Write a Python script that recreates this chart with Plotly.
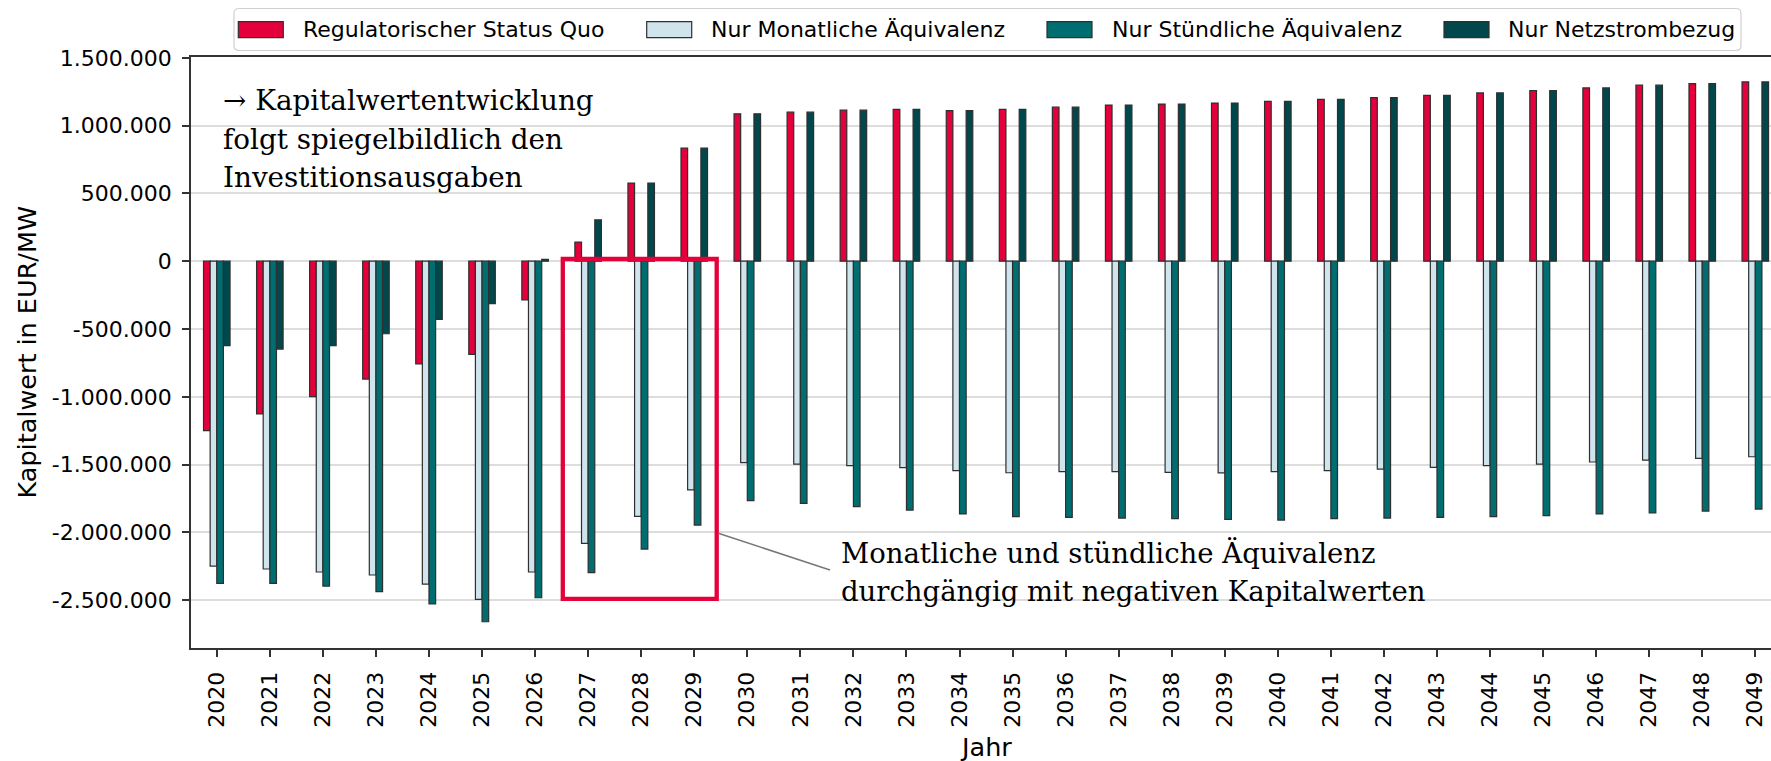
import plotly.graph_objects as go

# ---------------- data ----------------
years = ["2020", "2021", "2022", "2023", "2024", "2025", "2026", "2027", "2028", "2029",
         "2030", "2031", "2032", "2033", "2034", "2035", "2036", "2037", "2038", "2039",
         "2040", "2041", "2042", "2043", "2044", "2045", "2046", "2047", "2048", "2049"]

series_names = ["Regulatorischer Status Quo", "Nur Monatliche Äquivalenz",
                "Nur Stündliche Äquivalenz", "Nur Netzstrombezug"]

status_quo = [-1250000, -1127000, -999000, -869000, -758000, -687000, -286000, 141000, 576000, 834000,
              1087000, 1099000, 1114000, 1119000, 1111000, 1119000, 1136000, 1151000, 1159000, 1166000,
              1178000, 1193000, 1206000, 1223000, 1241000, 1259000, 1278000, 1298000, 1310000, 1322000]

monatlich = [-2248000, -2270000, -2292000, -2314000, -2381000, -2494000, -2292000, -2081000, -1882000, -1687000,
             -1486000, -1496000, -1508000, -1523000, -1545000, -1560000, -1552000, -1552000, -1557000, -1561000,
             -1552000, -1545000, -1533000, -1520000, -1508000, -1496000, -1481000, -1467000, -1454000, -1442000]

stuendlich = [-2376000, -2376000, -2396000, -2437000, -2528000, -2659000, -2482000, -2297000, -2123000, -1946000,
              -1766000, -1786000, -1810000, -1835000, -1864000, -1884000, -1889000, -1894000, -1899000, -1904000,
              -1909000, -1899000, -1894000, -1889000, -1884000, -1877000, -1864000, -1857000, -1843000, -1828000]

netzstrom = [-623000, -648000, -623000, -535000, -429000, -313000, 14000, 305000, 576000, 834000,
             1087000, 1099000, 1114000, 1119000, 1111000, 1119000, 1136000, 1151000, 1159000, 1166000,
             1178000, 1193000, 1206000, 1223000, 1241000, 1259000, 1278000, 1298000, 1310000, 1322000]

y_tickvals = [-2500000, -2000000, -1500000, -1000000, -500000, 0, 500000, 1000000, 1500000]
y_ticktext = ["-2.500.000", "-2.000.000", "-1.500.000", "-1.000.000", "-500.000", "0",
              "500.000", "1.000.000", "1.500.000"]

ann1_lines = ["→ Kapitalwertentwicklung", "folgt spiegelbildlich den", "Investitionsausgaben"]
ann2_lines = ["Monatliche und stündliche Äquivalenz", "durchgängig mit negativen Kapitalwerten"]

# ---------------- styling ----------------
colors = ["#E4003A", "#CFE4EC", "#006D70", "#00484B"]
EDGE = "#2F2F2F"
SANS = "DejaVu Sans"
SERIF = "DejaVu Serif"
FS = 22
FS_TITLE = 25.5

W, H = 1771, 761
PL, PR, PT, PB = 191, 1771, 57, 648          # plot area in pixels
XR = [-0.486, 29.296]
YR = [-2852500, 1505900]


def px(xpix):
    return (xpix - PL) / (PR - PL)


def py(ypix):
    return (PB - ypix) / (PB - PT)


fig = go.Figure()
for name, vals, col in zip(series_names, [status_quo, monatlich, stuendlich, netzstrom], colors):
    fig.add_trace(go.Bar(x=years, y=vals, name=name, marker_color=col,
                         marker_line_color=EDGE, marker_line_width=1.2, showlegend=False))

shapes = []
annotations = []

# white box behind annotation 1 (between gridlines and traces)
shapes.append(dict(type="rect", xref="paper", yref="paper", x0=px(221), x1=px(604), y0=py(201), y1=py(78),
                   fillcolor="white", line_width=0, layer="between"))
# white box behind annotation 2
shapes.append(dict(type="rect", xref="paper", yref="paper", x0=px(838), x1=px(1432), y0=py(617), y1=py(524),
                   fillcolor="white", line_width=0, layer="between"))
# red highlight rectangle
shapes.append(dict(type="rect", xref="paper", yref="paper", x0=px(562.8), x1=px(716.7), y0=py(598.8), y1=py(259),
                   line=dict(color="#E4003A", width=4.3), fillcolor="rgba(0,0,0,0)", layer="above"))
# connector line
shapes.append(dict(type="line", xref="paper", yref="paper", x0=px(718.3), y0=py(533.3), x1=px(830), y1=py(570),
                   line=dict(color="#777777", width=1.5), layer="above"))

for t, yc in zip(ann1_lines, [100.5, 139, 177.5]):
    annotations.append(dict(text=t, xref="paper", yref="paper", x=px(222), y=py(yc), xanchor="left",
                            yanchor="middle", showarrow=False, borderpad=0,
                            font=dict(family=SERIF, size=27.8, color="black")))
for t, yc in zip(ann2_lines, [552.5, 591]):
    annotations.append(dict(text=t, xref="paper", yref="paper", x=px(840), y=py(yc), xanchor="left",
                            yanchor="middle", showarrow=False, borderpad=0,
                            font=dict(family=SERIF, size=27.5, color="black")))

# manual legend (matplotlib style)
lx0, lx1, ly0, ly1, r = 234, 1741, 8.5, 50.5, 5
rx, ry = r / (PR - PL), r / (PB - PT)
path = (f"M {px(lx0)+rx},{py(ly0)} L {px(lx1)-rx},{py(ly0)} Q {px(lx1)},{py(ly0)} {px(lx1)},{py(ly0)-ry} "
        f"L {px(lx1)},{py(ly1)+ry} Q {px(lx1)},{py(ly1)} {px(lx1)-rx},{py(ly1)} "
        f"L {px(lx0)+rx},{py(ly1)} Q {px(lx0)},{py(ly1)} {px(lx0)},{py(ly1)+ry} "
        f"L {px(lx0)},{py(ly0)-ry} Q {px(lx0)},{py(ly0)} {px(lx0)+rx},{py(ly0)} Z")
shapes.append(dict(type="path", xref="paper", yref="paper", path=path, fillcolor="white",
                   line=dict(color="#D0D0D0", width=1.2), layer="above"))
patch_x = [238.3, 646.7, 1047, 1444]
text_x = [301.7, 710, 1111, 1507]
for name, col, pxl, tx in zip(series_names, colors, patch_x, text_x):
    shapes.append(dict(type="rect", xref="paper", yref="paper", x0=px(pxl), x1=px(pxl + 45),
                       y0=py(37.7), y1=py(21.7), fillcolor=col, line=dict(color=EDGE, width=1.2), layer="above"))
    annotations.append(dict(text=name, xref="paper", yref="paper", x=px(tx), y=py(29.5), xanchor="left",
                            yanchor="middle", showarrow=False, borderpad=0,
                            font=dict(family=SANS, size=FS, color="black")))

# axis titles
annotations.append(dict(text="Kapitalwert in EUR/MW", xref="paper", yref="paper", x=px(26), y=0.5,
                        textangle=-90, xanchor="center", yanchor="middle", showarrow=False,
                        font=dict(family=SANS, size=FS_TITLE, color="black")))
annotations.append(dict(text="Jahr", xref="paper", yref="paper", x=px(986), y=py(747),
                        xanchor="center", yanchor="middle", showarrow=False,
                        font=dict(family=SANS, size=FS_TITLE, color="black")))

fig.update_layout(
    width=W, height=H,
    margin=dict(l=PL, r=W - PR, t=PT, b=H - PB, pad=0),
    paper_bgcolor="white", plot_bgcolor="white",
    barmode="group", bargap=0.5, bargroupgap=0,
    showlegend=False,
    font=dict(family=SANS, size=FS, color="black"),
    shapes=shapes, annotations=annotations,
    xaxis=dict(type="category", range=XR, showgrid=False, showline=True, linecolor="#333333", linewidth=1.7,
               mirror=True, ticks="outside", ticklen=7, tickwidth=1.7, tickcolor="#333333",
               tickangle=-90, tickfont=dict(family=SANS, size=FS, color="black"), ticklabelstandoff=6,
               zeroline=False, fixedrange=True),
    yaxis=dict(range=YR, tickvals=y_tickvals, ticktext=y_ticktext, showgrid=True, gridcolor="#DDDDDD",
               gridwidth=1.6, showline=True, linecolor="#333333", linewidth=1.7, mirror=False,
               ticks="outside", ticklen=7, tickwidth=1.7, tickcolor="#333333",
               tickfont=dict(family=SANS, size=FS, color="black"), ticklabelstandoff=6,
               zeroline=False, fixedrange=True),
)

fig.write_html("out.html", include_plotlyjs=True, config={"displayModeBar": False},
               post_script="document.body.style.margin='0';document.body.style.overflow='hidden';")
